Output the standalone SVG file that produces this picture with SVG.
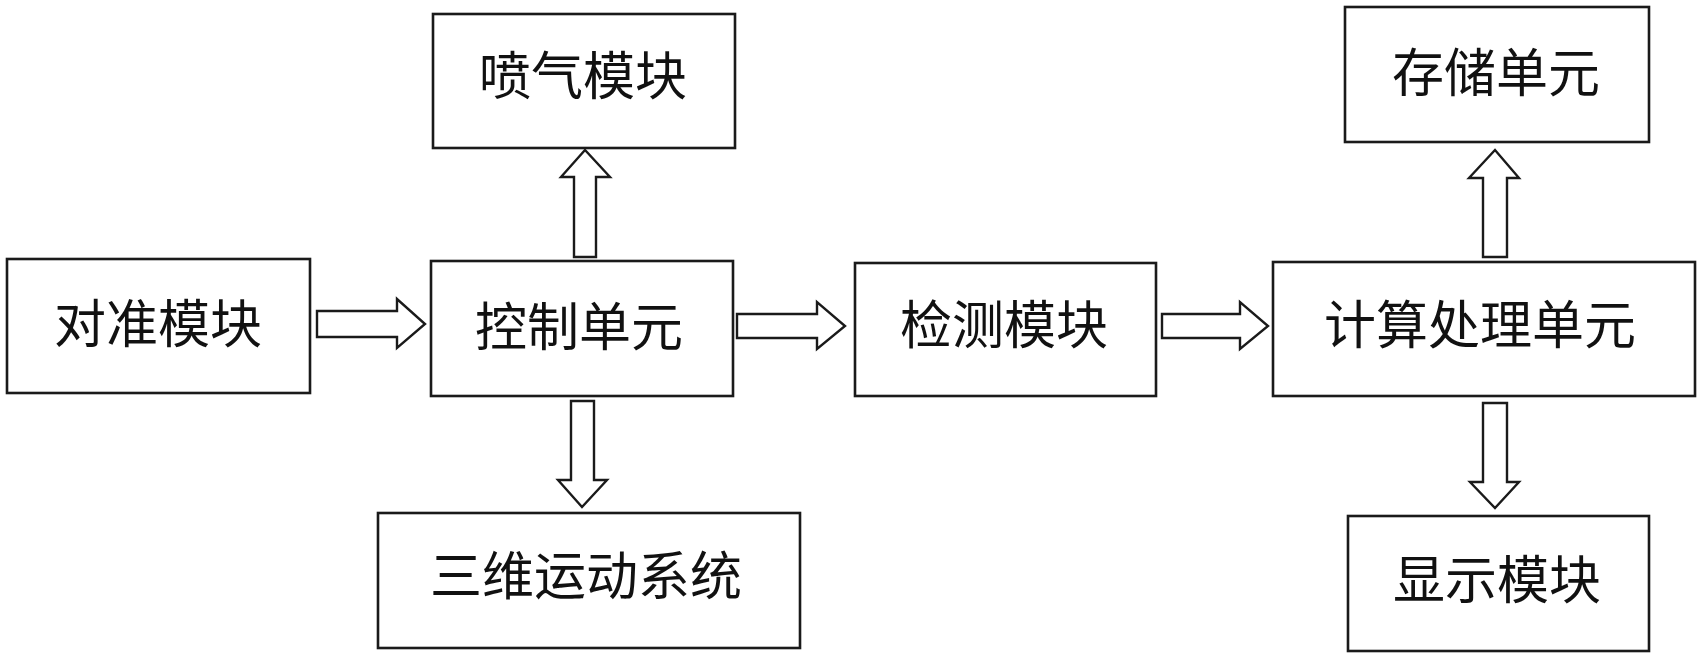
<svg xmlns="http://www.w3.org/2000/svg" width="1702" height="658" viewBox="0 0 1702 658">
<style>
.box{fill:#fff;stroke:#1a1a1a;stroke-width:2.6}
.arr{fill:#fff;stroke:#1a1a1a;stroke-width:2.4;stroke-linejoin:miter}
.lbl{font-family:"Noto Sans CJK SC","Noto Sans CJK JP",sans-serif;font-size:52px;fill:#111;text-anchor:middle}
</style>
<rect width="1702" height="658" fill="#fff"/>
<g id="connectors">
<polygon class="arr" points="317,311 397,311 397,299 425,324 397,348 397,337 317,337"/>
<polygon class="arr" points="737,314 817,314 817,302 845,326 817,349 817,338 737,338"/>
<polygon class="arr" points="1162,314 1240,314 1240,302 1268,326 1240,349 1240,338 1162,338"/>
<polygon class="arr" points="574,257 574,177 561,177 585,150 610,177 596,177 596,257"/>
<polygon class="arr" points="571,401 571,480 558,480 582,507 607,480 594,480 594,401"/>
<polygon class="arr" points="1483,257 1483,178 1469,178 1495,150 1519,178 1507,178 1507,257"/>
<polygon class="arr" points="1483,403 1483,482 1470,482 1495,508 1519,482 1507,482 1507,403"/>
</g>
<g id="node-duizhun"><rect class="box" x="7" y="259" width="303" height="134"/><text class="lbl" x="158" y="343">对准模块</text></g>
<g id="node-kongzhi"><rect class="box" x="431" y="261" width="302" height="135"/><text class="lbl" x="579" y="346">控制单元</text></g>
<g id="node-penqi"><rect class="box" x="433" y="14" width="302" height="134"/><text class="lbl" x="583" y="95">喷气模块</text></g>
<g id="node-sanwei"><rect class="box" x="378" y="513" width="422" height="135"/><text class="lbl" x="586" y="595">三维运动系统</text></g>
<g id="node-jiance"><rect class="box" x="855" y="263" width="301" height="133"/><text class="lbl" x="1004" y="344">检测模块</text></g>
<g id="node-jisuan"><rect class="box" x="1273" y="262" width="422" height="134"/><text class="lbl" x="1480" y="344">计算处理单元</text></g>
<g id="node-cunchu"><rect class="box" x="1345" y="7" width="304" height="135"/><text class="lbl" x="1496" y="92">存储单元</text></g>
<g id="node-xianshi"><rect class="box" x="1348" y="516" width="301" height="135"/><text class="lbl" x="1497" y="599">显示模块</text></g>
</svg>
